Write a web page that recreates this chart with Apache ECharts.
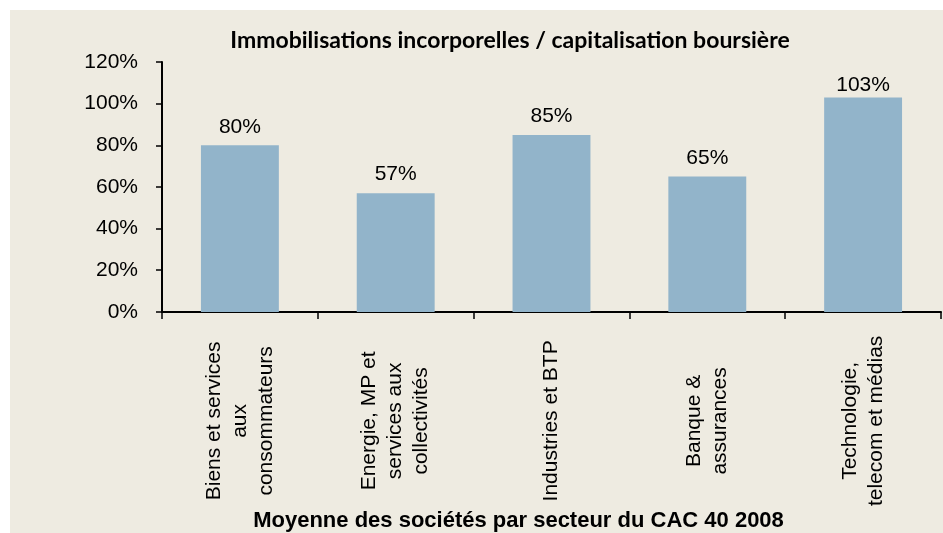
<!DOCTYPE html>
<html>
<head>
<meta charset="utf-8">
<script src="https://cdn.jsdelivr.net/npm/echarts@6/dist/echarts.min.js"></script>
<style>
  html, body { margin: 0; padding: 0; background: #fff; }
  #chart { position: absolute; left: 10px; top: 10px; width: 933px; height: 523px; }
</style>
</head>
<body>
<div id="chart"></div>
<script>
// secteurs du CAC 40 (libellés multi-lignes comme dans l'original)
var categories = [
  'Biens et services\naux\nconsommateurs',
  'Energie, MP et\nservices aux\ncollectivités',
  'Industries et BTP',
  'Banque &\nassurances',
  'Technologie,\ntelecom et médias'
]
var ratios = [80, 57, 85, 65, 103]
var yTicks = [0, 20, 40, 60, 80, 100, 120]

var chart = echarts.init(document.getElementById('chart'))
var font = '"Liberation Sans", Arial, sans-serif'

var option = {
  backgroundColor: '#eeebe1',
  animation: false,
  title: {
    text: 'Immobilisations incorporelles / capitalisation boursière',
    left: 495,
    top: 14,
    textAlign: 'center',
    textStyle: {
      fontFamily: 'Lato, sans-serif',
      fontWeight: 'bold',
      fontSize: 23,
      color: '#000'
    }
  },
  grid: {
    left: 152,
    right: 2,
    top: 52,
    bottom: 220,
    containLabel: false
  },
  xAxis: {
    type: 'category',
    data: categories,
    name: 'Moyenne des sociétés par secteur du CAC 40 2008',
    nameLocation: 'middle',
    nameGap: 196,
    nameTextStyle: {
      fontFamily: font,
      fontWeight: 'bold',
      fontSize: 22,
      color: '#000',
      padding: [0, 66, 0, 0]
    },
    axisLine: { lineStyle: { color: '#000', width: 2 } },
    axisTick: { show: true, length: 7, lineStyle: { color: '#000', width: 1.5 } },
    axisLabel: {
      interval: 0,
      rotate: 90,
      margin: 24,
      formatter: function (v) {
        return v.split('\n').map(function (l) { return '{a|' + l + '}' }).join('\n')
      },
      rich: {
        a: {
          width: 170,
          align: 'center',
          fontFamily: font,
          fontSize: 21,
          lineHeight: 26,
          color: '#000'
        }
      }
    }
  },
  yAxis: {
    type: 'value',
    min: 0,
    max: 120,
    interval: 20,
    axisLine: { show: true, lineStyle: { color: '#000', width: 2 } },
    axisTick: { show: true, length: 6, lineStyle: { color: '#000', width: 1.5 } },
    splitLine: { show: false },
    axisLabel: {
      margin: 24,
      fontFamily: font,
      fontSize: 21,
      color: '#000',
      formatter: function (v) { return yTicks.indexOf(v) >= 0 ? v + '%' : '' }
    }
  },
  series: [{
    type: 'bar',
    data: ratios.map(function (v, i) {
      // le dernier libellé est plus près de la barre dans l'original
      return i === ratios.length - 1 ? { value: v, label: { distance: 2 } } : v
    }),
    barWidth: '50%',
    itemStyle: { color: '#92b4ca' },
    label: {
      show: true,
      position: 'top',
      distance: 8,
      fontFamily: font,
      fontSize: 21,
      color: '#000',
      formatter: '{c}%'
    }
  }]
}
chart.setOption(option)
</script>
</body>
</html>
